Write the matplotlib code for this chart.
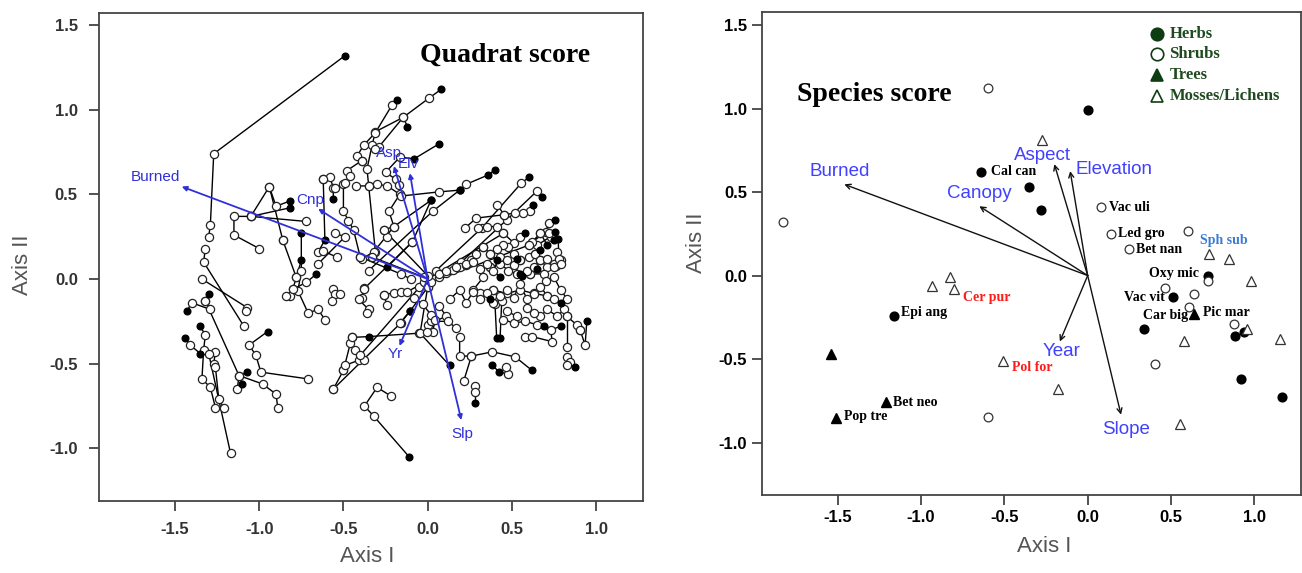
import matplotlib
matplotlib.use("Agg")
import matplotlib.pyplot as plt

# ---------------- data ----------------
# environmental vectors (shared by both panels)
env_short = ["Burned", "Cnp", "Asp", "Elv", "Yr", "Slp"]
env_long = ["Burned", "Canopy", "Aspect", "Elevation", "Year", "Slope"]
env_x = [-1.46, -0.65, -0.20, -0.105, -0.167, 0.20]
env_y = [0.546, 0.415, 0.667, 0.625, -0.395, -0.833]

# quadrat trajectories: (axis I, axis II, filled?)
quadrat_paths = [
    [(-0.49, 1.32, 1), (-1.27, 0.74, 0), (-1.29, 0.32, 0), (-1.30, 0.25, 0)],
    [(-1.32, 0.18, 0), (-1.33, 0.10, 0), (-1.09, -0.28, 0)],
    [(-1.34, 0.00, 0), (-1.07, -0.17, 0), (-1.08, -0.19, 0)],
    [(-1.30, -0.09, 1), (-1.32, -0.13, 0), (-1.29, -0.18, 0), (-1.40, -0.14, 0), (-1.43, -0.19, 1)],
    [(-1.35, -0.28, 1), (-1.32, -0.33, 0), (-1.33, -0.42, 0), (-1.34, -0.59, 0), (-1.29, -0.64, 0), (-1.26, -0.76, 0)],
    [(-1.44, -0.35, 1), (-1.41, -0.39, 0), (-1.35, -0.44, 1), (-1.26, -0.43, 0), (-1.27, -0.50, 0),
     (-1.26, -0.52, 0), (-1.24, -0.71, 0), (-1.21, -0.76, 0)],
    [(-1.30, -0.44, 0), (-1.17, -1.03, 0)],
    [(-0.95, -0.31, 1), (-1.06, -0.39, 0), (-1.02, -0.45, 0), (-0.99, -0.55, 0), (-0.71, -0.59, 0)],
    [(-1.07, -0.55, 1), (-1.12, -0.57, 0), (-0.98, -0.62, 0), (-0.90, -0.68, 0), (-0.89, -0.76, 0)],
    [(-1.10, -0.62, 1), (-1.13, -0.65, 0), (-1.12, -0.57, 0), (-1.32, -0.13, 0)],
    [(-1.00, 0.18, 0), (-1.15, 0.26, 0), (-1.15, 0.37, 0), (-1.05, 0.37, 0), (-0.94, 0.545, 0), (-0.86, 0.23, 0)],
    [(-1.05, 0.37, 0), (-0.82, 0.42, 1)],
    [(-0.94, 0.545, 0), (-0.90, 0.43, 0), (-0.82, 0.46, 1)],
    [(-1.05, 0.37, 0), (-0.72, 0.34, 0)],
    [(-0.86, 0.23, 0), (-0.78, 0.01, 0), (-0.80, -0.06, 0), (-0.82, -0.10, 0), (-0.84, -0.10, 0)],
    [(-0.75, 0.27, 1), (-0.75, 0.05, 0), (-0.77, -0.07, 0), (-0.71, -0.20, 0), (-0.65, -0.18, 0), (-0.61, -0.24, 0)],
    [(-0.75, 0.11, 1), (-0.78, 0.01, 0)],
    [(-0.66, 0.03, 1), (-0.72, -0.02, 0), (-0.80, -0.06, 0)],
    [(-0.62, 0.59, 0), (-0.58, 0.60, 0), (-0.56, 0.54, 0), (-0.56, 0.475, 1)],
    [(-0.62, 0.59, 0), (-0.61, 0.23, 1), (-0.65, 0.16, 0), (-0.62, 0.165, 0), (-0.54, 0.13, 0)],
    [(-0.50, 0.56, 0), (-0.50, 0.40, 0), (-0.47, 0.345, 0), (-0.44, 0.29, 0), (-0.40, 0.13, 0)],
    [(-0.55, 0.27, 0), (-0.49, 0.25, 0), (-0.65, 0.09, 0)],
    [(0.08, 1.12, 1), (0.01, 1.07, 0), (-0.145, 0.955, 0), (-0.31, 0.87, 0), (-0.33, 0.79, 0), (-0.36, 0.65, 0), (-0.35, 0.55, 0)],
    [(-0.18, 1.06, 1), (-0.21, 1.03, 0), (-0.31, 0.865, 0), (-0.38, 0.79, 0), (-0.42, 0.725, 0), (-0.39, 0.70, 0)],
    [(-0.12, 0.90, 1), (-0.145, 0.955, 0), (-0.29, 0.78, 0), (-0.31, 0.77, 0)],
    [(0.07, 0.80, 1), (-0.08, 0.71, 1), (-0.165, 0.72, 0), (-0.25, 0.63, 0), (-0.19, 0.59, 0)],
    [(-0.30, 0.56, 0), (-0.24, 0.55, 0), (-0.165, 0.50, 0), (-0.23, 0.40, 0), (-0.20, 0.31, 0), (-0.26, 0.29, 0), (-0.24, 0.25, 0)],
    [(-0.425, 0.55, 0), (-0.35, 0.55, 0), (-0.31, 0.16, 0), (-0.33, 0.13, 0)],
    [(-0.39, 0.70, 0), (-0.48, 0.64, 0), (-0.46, 0.61, 0), (-0.49, 0.565, 0), (-0.55, 0.535, 0)],
    [(0.40, 0.645, 1), (0.36, 0.615, 1), (0.23, 0.56, 0), (0.19, 0.525, 1), (0.07, 0.515, 0), (-0.16, 0.49, 0), (-0.17, 0.555, 0)],
    [(0.02, 0.465, 1), (-0.09, 0.22, 0), (-0.24, 0.07, 1)],
    [(0.02, 0.465, 1), (-0.20, 0.31, 0), (-0.32, 0.16, 0), (-0.39, 0.12, 0)],
    [(0.60, 0.60, 1), (0.555, 0.565, 0), (0.32, 0.30, 0), (0.05, 0.05, 0)],
    [(0.68, 0.485, 1), (0.65, 0.52, 0), (0.47, 0.35, 0), (0.20, 0.10, 0)],
    [(0.625, 0.44, 1), (0.61, 0.40, 0), (0.565, 0.39, 0), (0.52, 0.39, 0), (0.455, 0.38, 0), (0.41, 0.44, 0)],
    [(0.455, 0.38, 0), (0.29, 0.36, 0), (0.22, 0.30, 0)],
    [(0.755, 0.35, 1), (0.72, 0.33, 0), (0.70, 0.28, 0), (0.60, 0.20, 0)],
    [(0.755, 0.275, 1), (0.73, 0.25, 0), (0.65, 0.20, 0)],
    [(0.775, 0.235, 1), (0.78, 0.11, 0), (0.76, 0.075, 0)],
    [(-0.56, -0.65, 0), (-0.50, -0.54, 0), (-0.45, -0.345, 0)],
    [(-0.56, -0.65, 0), (-0.16, -0.26, 0), (-0.105, -0.19, 1)],
    [(-0.50, -0.54, 0), (-0.49, -0.51, 0), (-0.41, -0.48, 0), (-0.43, -0.42, 0), (-0.46, -0.38, 0),
     (-0.45, -0.345, 0), (-0.35, -0.34, 1), (-0.05, -0.32, 0)],
    [(-0.38, -0.48, 0), (-0.40, -0.45, 0), (-0.05, -0.05, 0)],
    [(-0.56, -0.056, 0), (-0.55, -0.09, 0), (-0.52, -0.09, 0), (-0.57, -0.13, 0)],
    [(-0.38, -0.055, 0), (-0.39, -0.11, 0), (-0.41, -0.12, 0), (-0.35, -0.18, 0), (-0.36, -0.20, 0)],
    [(-0.26, -0.095, 0), (-0.20, -0.08, 0), (-0.16, -0.075, 0), (-0.12, -0.075, 0), (-0.02, -0.02, 0)],
    [(-0.24, -0.155, 0), (-0.26, -0.095, 0)],
    [(0.0, -0.05, 0), (-0.045, -0.32, 0), (0.13, -0.51, 1)],
    [(0.19, -0.345, 0), (0.19, -0.455, 0), (0.26, -0.455, 0), (0.215, -0.60, 0)],
    [(0.26, -0.455, 0), (0.385, -0.43, 0), (0.52, -0.46, 0), (0.62, -0.54, 1)],
    [(0.385, -0.51, 1), (0.425, -0.55, 1), (0.48, -0.56, 0), (0.465, -0.52, 0)],
    [(0.28, -0.63, 0), (0.28, -0.67, 0), (0.28, -0.73, 1)],
    [(-0.22, -0.69, 0), (-0.30, -0.64, 0), (-0.375, -0.75, 0), (-0.32, -0.81, 0), (-0.11, -1.05, 1)],
    [(-0.165, -0.26, 0), (-0.105, -0.19, 1), (0.0, -0.05, 0)],
    [(0.41, -0.35, 1), (0.40, -0.15, 0), (0.38, -0.10, 0)],
    [(0.43, -0.35, 1), (0.44, -0.13, 0)],
    [(0.83, -0.46, 0), (0.845, -0.49, 0), (0.875, -0.52, 1), (0.83, -0.51, 0)],
    [(0.905, -0.30, 0), (0.935, -0.39, 0), (0.945, -0.25, 1)],
    [(0.826, -0.22, 0), (0.885, -0.27, 0), (0.905, -0.30, 0)],
    [(0.07, 0.014, 0), (0.11, 0.033, 0), (0.15, 0.053, 0), (0.19, 0.073, 0), (0.23, 0.083, 0), (0.26, 0.11, 0), (0.29, 0.15, 0), (0.33, 0.19, 0)],
    [(0.30, 0.30, 0), (0.35, 0.31, 0), (0.41, 0.31, 0), (0.45, 0.27, 0), (0.51, 0.215, 0), (0.55, 0.25, 0), (0.58, 0.27, 1)],
    [(0.62, 0.22, 0), (0.67, 0.27, 0), (0.72, 0.27, 0), (0.75, 0.23, 1)],
    [(0.77, 0.16, 0), (0.79, 0.11, 0), (0.75, 0.09, 0), (0.71, 0.07, 0), (0.67, 0.11, 0), (0.64, 0.15, 0), (0.60, 0.13, 0), (0.55, 0.11, 0)],
    [(0.51, 0.15, 0), (0.48, 0.19, 0), (0.45, 0.20, 0), (0.41, 0.18, 0), (0.37, 0.15, 0), (0.33, 0.19, 0)],
    [(0.37, 0.07, 0), (0.43, 0.09, 0), (0.48, 0.05, 0), (0.53, 0.03, 0), (0.56, 0.02, 1)],
    [(0.61, 0.03, 0), (0.69, 0.03, 0), (0.70, -0.01, 0), (0.75, 0.01, 0), (0.79, -0.065, 0), (0.83, -0.12, 0)],
    [(0.33, 0.01, 0), (0.27, -0.065, 0), (0.31, -0.085, 0), (0.39, -0.065, 0), (0.47, -0.085, 0), (0.55, -0.065, 0), (0.63, -0.085, 0), (0.71, -0.10, 0)],
    [(0.41, 0.11, 1), (0.37, 0.15, 0)],
    [(0.53, 0.12, 1), (0.55, 0.11, 0)],
    [(0.67, 0.17, 1), (0.64, 0.15, 0)],
    [(0.71, 0.20, 1), (0.67, 0.27, 0)],
    [(0.65, 0.06, 1), (0.61, 0.03, 0)],
    [(0.43, 0.01, 1), (0.37, 0.07, 0)],
    [(0.37, -0.12, 1), (0.39, -0.065, 0)],
    [(0.07, 0.03, 0), (0.11, 0.05, 0), (0.17, 0.07, 0), (0.23, 0.09, 0), (0.27, 0.10, 0), (0.31, 0.06, 0), (0.35, 0.09, 0),
     (0.39, 0.05, 0), (0.43, 0.13, 0), (0.47, 0.11, 0), (0.51, 0.08, 0), (0.55, 0.03, 1)],
    [(0.59, 0.05, 0), (0.63, 0.07, 0), (0.67, 0.11, 0), (0.71, 0.12, 0), (0.75, 0.07, 0), (0.78, 0.12, 0), (0.79, 0.09, 0)],
    [(0.13, -0.12, 0), (0.19, -0.065, 0), (0.23, -0.14, 0), (0.27, -0.075, 0), (0.31, -0.12, 0), (0.35, -0.085, 0), (0.39, -0.14, 0)],
    [(0.43, -0.10, 0), (0.47, -0.065, 0), (0.51, -0.11, 0), (0.55, -0.03, 0), (0.59, -0.12, 0), (0.63, -0.09, 0),
     (0.67, -0.045, 0), (0.71, -0.10, 0), (0.75, -0.12, 0), (0.79, -0.14, 1)],
    [(0.81, -0.18, 0), (0.77, -0.22, 0), (0.71, -0.18, 0), (0.67, -0.22, 0), (0.63, -0.20, 0), (0.59, -0.17, 0)],
    [(0.45, -0.24, 0), (0.51, -0.26, 0), (0.58, -0.25, 0), (0.65, -0.27, 0), (0.69, -0.28, 1)],
    [(0.58, -0.34, 0), (0.62, -0.34, 0), (0.74, -0.37, 0), (0.73, -0.30, 0), (0.79, -0.28, 1)],
    [(0.83, -0.40, 0), (0.83, -0.22, 0)],
    [(0.07, -0.16, 0), (0.11, -0.22, 0), (0.0, -0.27, 0), (0.02, -0.25, 0), (0.12, -0.25, 0), (0.17, -0.29, 0)],
    [(0.47, -0.19, 0), (0.53, -0.22, 0)],
    [(-0.08, -0.11, 0), (-0.03, -0.15, 0), (0.02, -0.21, 0), (0.045, -0.24, 0), (0.03, -0.31, 0), (-0.005, -0.31, 0)],
    [(0.0, 0.0, 0), (0.45, 0.27, 0)],
    [(0.02, -0.02, 0), (0.60, 0.20, 0)],
    [(-0.26, 0.29, 0), (0.0, 0.02, 0)],
    [(-0.33, 0.13, 0), (-0.02, 0.01, 0)],
    [(-0.40, 0.13, 0), (-0.16, 0.03, 0), (-0.10, 0.0, 0)],
    [(-0.38, -0.06, 0), (-0.09, 0.22, 0)],
    [(-0.35, 0.05, 0), (0.03, 0.40, 0), (0.19, 0.525, 1)],
]

# species scores
herb_x = [0.0, -0.64, -0.35, -0.28, -1.16, 0.72, 0.51, 0.34, 0.885, 0.935, 0.92, 1.167]
herb_y = [0.99, 0.62, 0.53, 0.39, -0.24, 0.0, -0.13, -0.32, -0.36, -0.34, -0.62, -0.73]
shrub_x = [-0.60, -1.825, 0.077, 0.14, 0.25, 0.60, 0.72, 0.466, 0.636, 0.606, 0.875, 0.406, -0.60]
shrub_y = [1.12, 0.32, 0.41, 0.25, 0.156, 0.265, -0.03, -0.075, -0.11, -0.19, -0.29, -0.53, -0.845]
tree_x = [-1.54, -1.21, -1.51, 0.636]
tree_y = [-0.47, -0.76, -0.85, -0.23]
moss_x = [-0.274, -0.935, -0.825, -0.80, -0.51, -0.18, 0.73, 0.85, 0.98, 0.955, 0.576, 1.155, 0.554]
moss_y = [0.81, -0.06, -0.01, -0.08, -0.51, -0.68, 0.13, 0.10, -0.03, -0.32, -0.39, -0.38, -0.89]

species_names = ["Cal can", "Vac uli", "Led gro", "Bet nan", "Sph sub", "Oxy mic", "Vac vit",
                 "Car big", "Pic mar", "Epi ang", "Cer pur", "Pol for", "Bet neo", "Pop tre"]
species_lx = [-0.58, 0.13, 0.18, 0.287, 0.673, 0.37, 0.22, 0.33, 0.69, -1.12, -0.748, -0.454, -1.167, -1.46]
species_ly = [0.625, 0.41, 0.25, 0.156, 0.208, 0.01, -0.134, -0.24, -0.22, -0.22, -0.134, -0.55, -0.76, -0.845]
species_col = ["black", "black", "black", "black", "#3a7bd5", "black", "black",
               "black", "black", "black", "#ff1a1a", "#ff1a1a", "black", "black"]

env_label_x = [-1.49, -0.653, -0.27, 0.16, -0.155, 0.23]
env_label_y = [0.62, 0.49, 0.72, 0.634, -0.456, -0.923]
envL_label_x = [-1.617, -0.70, -0.227, -0.116, -0.19, 0.205]
envL_label_y = [0.605, 0.469, 0.746, 0.681, -0.443, -0.913]

legend_labels = ["Herbs", "Shrubs", "Trees", "Mosses/Lichens"]

ticks_x = [-1.5, -1.0, -0.5, 0.0, 0.5, 1.0]
ticks_y = [-1.0, -0.5, 0.0, 0.5, 1.0, 1.5]

# ---------------- figure ----------------
SANS = ["Liberation Sans", "DejaVu Sans"]
SERIF = ["Liberation Serif", "DejaVu Serif"]

fig = plt.figure(figsize=(13.02, 5.73), dpi=100)
axL = fig.add_axes([0.0758, 0.1257, 0.4181, 0.8521])
axR = fig.add_axes([0.5855, 0.1361, 0.4135, 0.8430])


def style_axis(ax, color, pad, lcolor):
    for s in ax.spines.values():
        s.set_color(color)
        s.set_linewidth(1.3)
    ax.set_xticks(ticks_x)
    ax.set_yticks(ticks_y)
    ax.set_xticklabels([f"{t:.1f}" for t in ticks_x])
    ax.set_yticklabels([f"{t:.1f}" for t in ticks_y])
    ax.tick_params(direction="out", length=7, width=1.3, color=color, pad=pad,
                   labelsize=12, labelcolor=lcolor)
    for lab in ax.get_xticklabels() + ax.get_yticklabels():
        lab.set_fontweight("bold")
        lab.set_family(SANS)


# ---- left panel ----
axL.set_xlim(-1.953, 1.279)
axL.set_ylim(-1.311, 1.573)
style_axis(axL, "#444444", 8, "#333333")

for path in quadrat_paths:
    xs = [p[0] for p in path]
    ys = [p[1] for p in path]
    axL.plot(xs, ys, color="black", lw=1.0, zorder=2)
for path in quadrat_paths:
    for x, y, f in path:
        if f:
            axL.plot(x, y, "o", ms=4.8, mfc="black", mec="black", zorder=4)
        else:
            axL.plot(x, y, "o", ms=5.9, mfc="white", mec="#222222", mew=0.9, zorder=3)

blueL = "#3030d8"
for name, ex, ey, lx, ly in zip(env_short, env_x, env_y, envL_label_x, envL_label_y):
    axL.annotate("", xy=(ex, ey), xytext=(0, 0),
                 arrowprops=dict(arrowstyle="-|>", color=blueL, lw=1.3,
                                 mutation_scale=7, shrinkA=0, shrinkB=0), zorder=6)
    axL.text(lx, ly, name, color=blueL, fontsize=11, ha="center", va="center",
             family=SANS, zorder=7)

axL.text(0.462, 1.321, "Quadrat score", fontsize=20, fontweight="bold",
         family=SERIF, ha="center", va="center")

# ---- right panel ----
axR.set_xlim(-1.952, 1.278)
axR.set_ylim(-1.314, 1.578)
style_axis(axR, "#444444", 4, "black")

for ex, ey in zip(env_x, env_y):
    axR.annotate("", xy=(ex, ey), xytext=(0, 0),
                 arrowprops=dict(arrowstyle="->", color="#111111", lw=1.0,
                                 mutation_scale=9, shrinkA=0, shrinkB=0), zorder=2)
for name, lx, ly in zip(env_long, env_label_x, env_label_y):
    axR.text(lx, ly, name, color="#4040ff", fontsize=13.5, ha="center", va="center",
             family=SANS)

axR.plot(herb_x, herb_y, "o", ms=6.3, mfc="black", mec="black", ls="none", zorder=4)
axR.plot(shrub_x, shrub_y, "o", ms=6.3, mfc="white", mec="#333333", mew=0.9, ls="none", zorder=4)
axR.plot(tree_x, tree_y, "^", ms=6.8, mfc="black", mec="black", ls="none", zorder=4)
axR.plot(moss_x, moss_y, "^", ms=6.8, mfc="white", mec="#333333", mew=0.9, ls="none", zorder=4)

for name, lx, ly, c in zip(species_names, species_lx, species_ly, species_col):
    axR.text(lx, ly, name, color=c, fontsize=10, fontweight="bold", family=SERIF,
             ha="left", va="center", zorder=5)

axR.text(-1.746, 1.083, "Species score", fontsize=20, fontweight="bold",
         family=SERIF, ha="left", va="center")

green = "#0f3d12"
leg_markers = [("o", green), ("o", "white"), ("^", green), ("^", "white")]
leg_rows = [0.954, 0.912, 0.869, 0.826]
for lab, (m, fc), yy in zip(legend_labels, leg_markers, leg_rows):
    axR.plot(0.734, yy, m, ms=9, mfc=fc, mec=green, mew=1.2,
             transform=axR.transAxes, clip_on=False)
    axR.text(0.756, yy, lab, transform=axR.transAxes, color="#1f4a1f",
             fontsize=12, fontweight="bold", family=SERIF, ha="left", va="center")

# axis titles
fig.text(367 / 1302, 1 - 557 / 573, "Axis I", fontsize=16, color="#555555",
         family=SANS, ha="center", va="center")
fig.text(22 / 1302, 1 - 265 / 573, "Axis II", fontsize=16, color="#555555",
         family=SANS, ha="center", va="center", rotation=90)
fig.text(1044 / 1302, 1 - 547 / 573, "Axis I", fontsize=16, color="#555555",
         family=SANS, ha="center", va="center")
fig.text(697 / 1302, 1 - 243 / 573, "Axis II", fontsize=16, color="#555555",
         family=SANS, ha="center", va="center", rotation=90)

fig.savefig("out.png", dpi=100)
